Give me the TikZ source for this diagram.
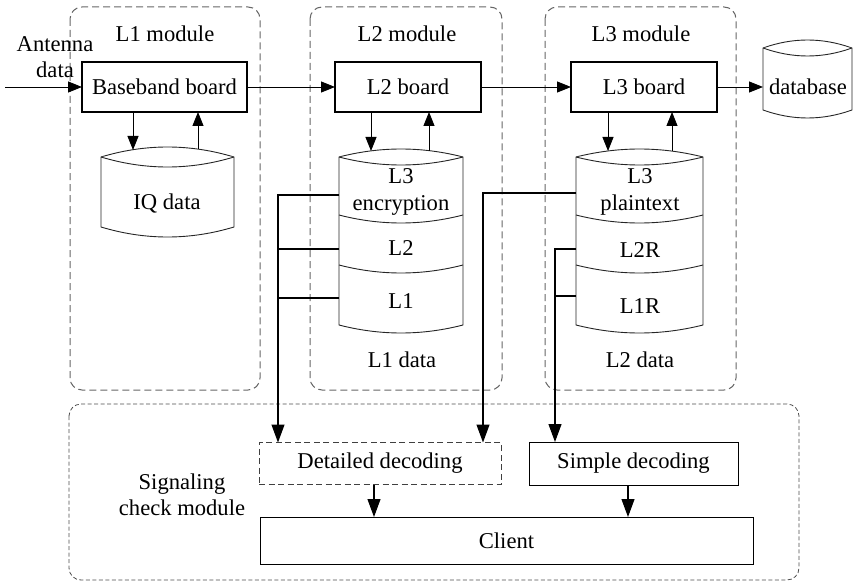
\documentclass[tikz,border=0pt]{standalone}
\usepackage{fontspec}
\setmainfont{Liberation Serif}
\usetikzlibrary{arrows.meta}
\newcommand\cylbody[5]{%
 \filldraw[cyl] (#1,#3) .. controls ({#1+(#2-#1)/3},{#3-4*#5/3}) and ({#2-(#2-#1)/3},{#3-4*#5/3}) .. (#2,#3) -- (#2,#4) .. controls ({#2-(#2-#1)/3},{#4+4*#5/3}) and ({#1+(#2-#1)/3},{#4+4*#5/3}) .. (#1,#4) -- cycle;
 \draw[cyl] (#1,#3) .. controls ({#1+(#2-#1)/3},{#3+4*#5/3}) and ({#2-(#2-#1)/3},{#3+4*#5/3}) .. (#2,#3);}
\newcommand\cyldiv[4]{%
 \draw[cyl] (#1,#3) .. controls ({#1+(#2-#1)/3},{#3+4*#4/3}) and ({#2-(#2-#1)/3},{#3+4*#4/3}) .. (#2,#3);}
\begin{document}
\begin{tikzpicture}[x=1pt,y=-1pt,
  every node/.style={font=\fontsize{22.6}{26.5}\selectfont, inner sep=0pt, outer sep=0pt},
  module/.style={draw=black!60, line width=1pt, dash pattern=on 7pt off 4pt, rounded corners=12pt},
  sigmod/.style={draw=black!70, line width=0.8pt, dash pattern=on 4pt off 2.5pt, rounded corners=12pt},
  board/.style={draw, line width=1.2pt, minimum height=50pt},
  cyl/.style={draw=black!85, fill=white, line width=0.9pt},
  arr/.style={line width=0.9pt, -{Triangle[length=14pt,width=11pt]}},
  barr/.style={line width=1.1pt, -{Triangle[length=18pt,width=13pt]}},
  link/.style={line width=1.1pt}]
\useasboundingbox (0,0) rectangle (854,583);
% modules
\draw[module] (70,7) rectangle (260,390);
\draw[module] (310,7) rectangle (502,390);
\draw[module] (545,7) rectangle (736,390);
\draw[sigmod] (69,404) rectangle (799,580);
\node (m1) at (165,34) {L1 module};
\node (m2) at (407,34) {L2 module};
\node (m3) at (641,34) {L3 module};
% boards
\node[board, minimum width=165pt] (bb) at (164.5,87) {Baseband board};
\node[board, minimum width=146pt] (l2b) at (408,87) {L2 board};
\node[board, minimum width=146pt] (l3b) at (644,87) {L3 board};
\node[align=center] (ant) at (55,57) {Antenna\\data};
\coordinate (antin) at (5,87);
% cylinders
\cylbody{101}{234}{157}{227}{10}
\node (iq) at (167,203) {IQ data};
\cylbody{339}{463}{157}{325}{8}
\cyldiv{339}{463}{215}{8}
\cyldiv{339}{463}{265}{8}
\node[align=center] (l3e) at (401,192) {L3\\encryption};
\node (l2s) at (401,248) {L2};
\node (l1s) at (401,301) {L1};
\node (l1d) at (402,360) {L1 data};
\cylbody{576}{703}{157}{325}{8}
\cyldiv{576}{703}{215}{8}
\cyldiv{576}{703}{265}{8}
\node[align=center] (l3p) at (640,192) {L3\\plaintext};
\node (l2r) at (640,250) {L2R};
\node (l1r) at (640,306) {L1R};
\node (l2d) at (640,360) {L2 data};
\cylbody{763}{852}{48}{110}{8}
\node (db) at (808,87) {database};
\coordinate (dbin) at (763,87);
% bottom
\node[board, dash pattern=on 6pt off 3.5pt, line width=1pt, draw=black!75, minimum width=242pt, minimum height=42pt] (dd) at (380,463.5) {Detailed decoding};
\node[board, line width=1pt, minimum width=209pt, minimum height=43pt] (sd) at (633.5,463.5) {Simple decoding};
\node[board, line width=1pt, minimum width=493pt, minimum height=47pt] (cl) at (506.5,540.5) {Client};
\node[align=center] (sig) at (182,495) {Signaling\\check module};
% horizontal flow
\draw[arr] (antin) -- (bb.west);
\draw[arr] (bb.east) -- (l2b.west);
\draw[arr] (l2b.east) -- (l3b.west);
\draw[arr] (l3b.east) -- (dbin);
% board <-> cylinder
\coordinate (iqin) at (133,150);
\coordinate (iqout) at (198,149);
\draw[arr] (bb.south -| iqin) -- (iqin);
\draw[arr] (iqout) -- (bb.south -| iqout);
\coordinate (c2in) at (371,151);
\coordinate (c2out) at (429,151);
\draw[arr] (l2b.south -| c2in) -- (c2in);
\draw[arr] (c2out) -- (l2b.south -| c2out);
\coordinate (c3in) at (608,151);
\coordinate (c3out) at (672,151);
\draw[arr] (l3b.south -| c3in) -- (c3in);
\draw[arr] (c3out) -- (l3b.south -| c3out);
% L2 cylinder taps
\coordinate (t1) at (339,195);
\coordinate (t2) at (339,249);
\coordinate (t3) at (339,298);
\coordinate (bus1) at (278,195);
\draw[link] (t2) -- (t2 -| bus1);
\draw[link] (t3) -- (t3 -| bus1);
\draw[barr] (t1) -- (bus1) -- (dd.north -| bus1);
% L3 plaintext tap
\coordinate (p1) at (576,193);
\coordinate (bus2) at (483,193);
\draw[barr] (p1) -- (bus2) -- (dd.north -| bus2);
% L2R / L1R taps
\coordinate (r1) at (576,249);
\coordinate (r2) at (576,296);
\coordinate (bus3) at (555,249);
\draw[link] (r2) -- (r2 -| bus3);
\draw[barr] (r1) -- (bus3) -- (sd.north -| bus3);
% decoders to client
\coordinate (dout) at (374,0);
\coordinate (sout) at (628,0);
\draw[barr] (dd.south -| dout) -- (cl.north -| dout);
\draw[barr] (sd.south -| sout) -- (cl.north -| sout);
\end{tikzpicture}
\end{document}
